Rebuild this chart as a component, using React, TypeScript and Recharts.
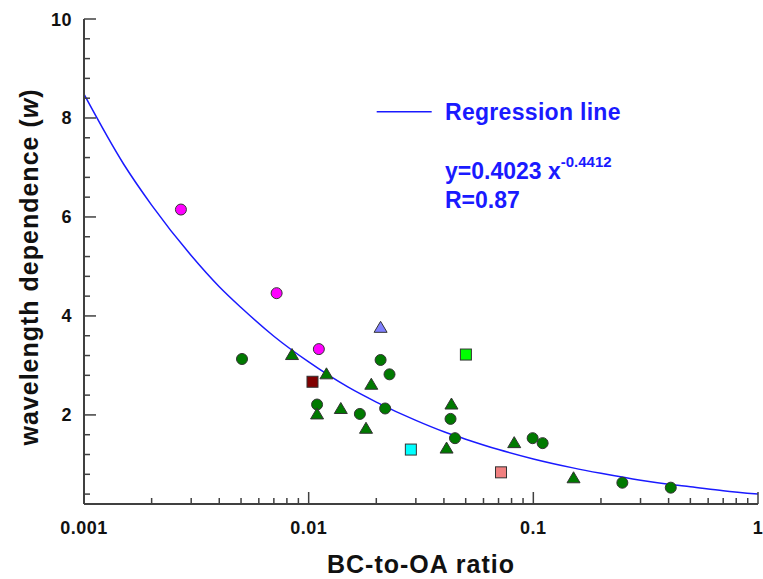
import React from 'react';
import { ComposedChart, Scatter, Line, XAxis, YAxis, Legend, Label } from 'recharts';

// x ticks on the log axis (labels only on decades)
const xTicks = [
  0.001, 0.002, 0.003, 0.004, 0.005, 0.006, 0.007, 0.008, 0.009,
  0.01, 0.02, 0.03, 0.04, 0.05, 0.06, 0.07, 0.08, 0.09,
  0.1, 0.2, 0.3, 0.4, 0.5, 0.6, 0.7, 0.8, 0.9, 1,
];
const xMajor = [0.001, 0.01, 0.1, 1];

const yTicks = [
  0.4, 0.8, 1.2, 1.6, 2, 2.4, 2.8, 3.2, 3.6, 4, 4.4, 4.8, 5.2, 5.6, 6,
  6.4, 6.8, 7.2, 7.6, 8, 8.4, 8.8, 9.2, 9.6, 10,
];
const yMajor = [2, 4, 6, 8, 10];

const magentaCircles = [
  { x: 0.0027, y: 6.15 },
  { x: 0.0072, y: 4.46 },
  { x: 0.0111, y: 3.33 },
];
const greenCircles = [
  { x: 0.00505, y: 3.13 },
  { x: 0.0109, y: 2.21 },
  { x: 0.0169, y: 2.02 },
  { x: 0.0209, y: 3.11 },
  { x: 0.0229, y: 2.82 },
  { x: 0.0219, y: 2.13 },
  { x: 0.0428, y: 1.92 },
  { x: 0.0448, y: 1.53 },
  { x: 0.0993, y: 1.53 },
  { x: 0.11, y: 1.43 },
  { x: 0.249, y: 0.63 },
  { x: 0.409, y: 0.53 },
];
const greenTriangles = [
  { x: 0.00843, y: 3.22 },
  { x: 0.012, y: 2.83 },
  { x: 0.0109, y: 2.02 },
  { x: 0.0139, y: 2.13 },
  { x: 0.018, y: 1.73 },
  { x: 0.019, y: 2.62 },
  { x: 0.0432, y: 2.22 },
  { x: 0.0411, y: 1.33 },
  { x: 0.0822, y: 1.44 },
  { x: 0.151, y: 0.73 },
];
const blueTriangles = [{ x: 0.0209, y: 3.77 }];
const maroonSquares = [{ x: 0.0104, y: 2.67 }];
const limeSquares = [{ x: 0.0501, y: 3.22 }];
const cyanSquares = [{ x: 0.0285, y: 1.3 }];
const pinkSquares = [{ x: 0.0718, y: 0.84 }];

// regression curve
const regressionLine = [
  { x: 0.001, y: 8.48 },
  { x: 0.0015, y: 7.07 },
  { x: 0.002, y: 6.24 },
  { x: 0.003, y: 5.22 },
  { x: 0.004, y: 4.59 },
  { x: 0.005, y: 4.17 },
  { x: 0.007, y: 3.59 },
  { x: 0.01, y: 3.07 },
  { x: 0.015, y: 2.56 },
  { x: 0.02, y: 2.26 },
  { x: 0.03, y: 1.89 },
  { x: 0.04, y: 1.66 },
  { x: 0.05, y: 1.51 },
  { x: 0.07, y: 1.3 },
  { x: 0.1, y: 1.11 },
  { x: 0.15, y: 0.93 },
  { x: 0.2, y: 0.82 },
  { x: 0.3, y: 0.68 },
  { x: 0.4, y: 0.6 },
  { x: 0.5, y: 0.55 },
  { x: 0.7, y: 0.47 },
  { x: 1, y: 0.4 },
];

const AXIS = '#404040';
const FONT = '"Liberation Sans", Arial, sans-serif';
const BLUE = '#1a1aff';
const OUTLINE = '#333333';

function XTick(props: any) {
  const { x, y, payload } = props;
  const major = xMajor.includes(payload.value);
  return (
    <g>
      <line x1={x} x2={x} y1={y} y2={y - (major ? 12 : 6)} stroke={AXIS} strokeWidth={1.5} />
      {major && (
        <text x={x} y={y + 30} textAnchor="middle" fontFamily={FONT} fontWeight="bold" fontSize={18} fill="#111" letterSpacing={0.5}>
          {String(payload.value)}
        </text>
      )}
    </g>
  );
}

function YTick(props: any) {
  const { x, y, payload } = props;
  const major = yMajor.includes(payload.value);
  return (
    <g>
      <line x1={x} x2={x + (major ? 12 : 6)} y1={y} y2={y} stroke={AXIS} strokeWidth={1.5} />
      {major && (
        <text x={x - 12} y={y + 6.5} textAnchor="end" fontFamily={FONT} fontWeight="bold" fontSize={18} fill="#111" letterSpacing={0.5}>
          {String(payload.value)}
        </text>
      )}
    </g>
  );
}

const circle = (fill: string) => (p: any) => (
  <circle cx={p.cx} cy={p.cy} r={5.5} fill={fill} stroke={OUTLINE} strokeWidth={1} />
);
const triangle = (fill: string) => (p: any) => (
  <polygon
    points={`${p.cx},${p.cy - 6} ${p.cx - 6.5},${p.cy + 5} ${p.cx + 6.5},${p.cy + 5}`}
    fill={fill}
    stroke={OUTLINE}
    strokeWidth={1}
  />
);
const square = (fill: string) => (p: any) => (
  <rect x={p.cx - 5.5} y={p.cy - 5.5} width={11} height={11} fill={fill} stroke={OUTLINE} strokeWidth={1} />
);

function RegressionLegend(props: any) {
  const entry = (props.payload || []).find((e: any) => e.type === 'line');
  const color = entry?.color || BLUE;
  const text = { fontFamily: FONT, fontWeight: 'bold' as const, fill: BLUE, fontSize: 23 };
  return (
    <svg width={270} height={130}>
      <line x1={6.7} x2={61.7} y1={21.7} y2={21.7} stroke={color} strokeWidth={1.5} />
      <text x={75} y={30} {...text} letterSpacing={0.3}>{entry?.value || 'Regression line'}</text>
      <text x={75} y={89} {...text}>
        y=0.4023 x<tspan fontSize={15} dy={-12}>-0.4412</tspan>
      </text>
      <text x={75} y={118} {...text}>R=0.87</text>
    </svg>
  );
}

export default function App() {
  return (
    <div style={{ position: 'absolute', left: 0, top: 0, width: 763, height: 579, overflow: 'hidden', background: '#fff' }}>
      <style>{'html,body{margin:0;padding:0;overflow:hidden;}'}</style>
      <ComposedChart width={763} height={579} margin={{ top: 19, right: 5, bottom: 0, left: 0 }}>
        <XAxis
          dataKey="x"
          type="number"
          scale="log"
          domain={[0.001, 1]}
          allowDataOverflow
          ticks={xTicks}
          interval={0}
          height={75}
          tickSize={0}
          tickMargin={0}
          tickLine={false}
          tick={<XTick />}
          axisLine={{ stroke: AXIS, strokeWidth: 2 }}
        >
          <Label
            content={() => (
              <text x={421} y={573} textAnchor="middle" fontFamily={FONT} fontWeight="bold" fontSize={25} fill="#111" letterSpacing={1}>
                BC-to-OA ratio
              </text>
            )}
          />
        </XAxis>
        <YAxis
          dataKey="y"
          type="number"
          domain={[0.2, 10]}
          allowDataOverflow
          ticks={yTicks}
          interval={0}
          width={84}
          tickSize={0}
          tickMargin={0}
          tickLine={false}
          tick={<YTick />}
          axisLine={{ stroke: AXIS, strokeWidth: 2 }}
        >
          <Label
            content={() => (
              <text
                x={37.5}
                y={267}
                transform="rotate(-90, 37.5, 267)"
                textAnchor="middle"
                fontFamily={FONT}
                fontWeight="bold"
                fontSize={25}
                fill="#111"
                letterSpacing={1}
              >
                wavelength dependence (<tspan fontStyle="italic">w</tspan>)
              </text>
            )}
          />
        </YAxis>
        <XAxis xAxisId="top" orientation="top" height={0} tick={false} tickLine={false} axisLine={{ stroke: AXIS, strokeWidth: 2 }} />
        <YAxis yAxisId="right" orientation="right" width={0} tick={false} tickLine={false} axisLine={{ stroke: AXIS, strokeWidth: 2 }} />

        <Line
          data={regressionLine}
          dataKey="y"
          name="Regression line"
          type="monotone"
          stroke={BLUE}
          strokeWidth={1.5}
          dot={false}
          isAnimationActive={false}
        />
        <Scatter data={greenCircles} legendType="none" shape={circle('#007a00')} isAnimationActive={false} />
        <Scatter data={greenTriangles} legendType="none" shape={triangle('#007a00')} isAnimationActive={false} />
        <Scatter data={magentaCircles} legendType="none" shape={circle('#ff00ff')} isAnimationActive={false} />
        <Scatter data={blueTriangles} legendType="none" shape={triangle('#8080ff')} isAnimationActive={false} />
        <Scatter data={maroonSquares} legendType="none" shape={square('#800000')} isAnimationActive={false} />
        <Scatter data={limeSquares} legendType="none" shape={square('#00ff00')} isAnimationActive={false} />
        <Scatter data={cyanSquares} legendType="none" shape={square('#00ffff')} isAnimationActive={false} />
        <Scatter data={pinkSquares} legendType="none" shape={square('#f08080')} isAnimationActive={false} />

        <Legend
          verticalAlign="middle"
          align="center"
          layout="horizontal"
          wrapperStyle={{ left: 370, top: 90 }}
          content={<RegressionLegend />}
        />
      </ComposedChart>
    </div>
  );
}
